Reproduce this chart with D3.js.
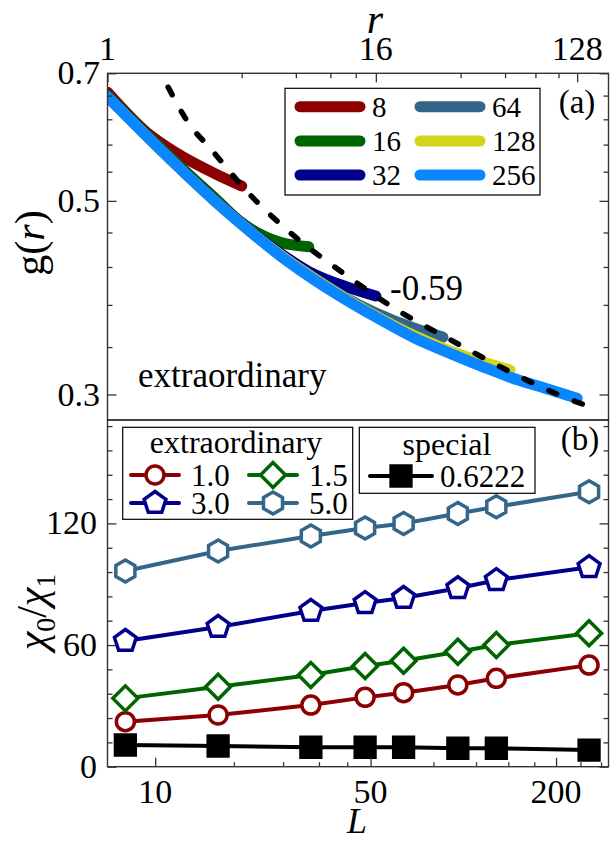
<!DOCTYPE html>
<html>
<head>
<meta charset="utf-8">
<style>
    body { margin: 0; background: #fff; }
</style>
</head>
<body>
<div id="chart"></div>
<script src="https://cdnjs.cloudflare.com/ajax/libs/d3/7.8.5/d3.min.js"></script>
<script>
    // ---- panel (a): g(r) for each L ----
    let rGrid = [1, 1.5, 2, 3, 4, 6, 8, 12, 16, 24, 32, 48, 64, 96, 128];
    let sizesA = [8, 16, 32, 64, 128, 256];
    let g8   = [0.666, 0.599, 0.569, 0.538, 0.520];
    let g16  = [0.661, 0.596, 0.555, 0.505, 0.472, 0.448, 0.443];
    let g32  = [0.659, 0.594, 0.553, 0.502, 0.471, 0.435, 0.415, 0.398, 0.389];
    let g64  = [0.658, 0.593, 0.552, 0.501, 0.470, 0.433, 0.412, 0.386, 0.372, 0.357, 0.349];
    let g128 = [0.658, 0.593, 0.552, 0.501, 0.470, 0.433, 0.411, 0.385, 0.369, 0.350, 0.339, 0.327, 0.320];
    let g256 = [0.658, 0.593, 0.552, 0.501, 0.470, 0.432, 0.410, 0.384, 0.368, 0.348, 0.337, 0.323, 0.314, 0.304, 0.297];
    let gSeries = [g8, g16, g32, g64, g128, g256];
    let colorsA = ['#8b0000', '#006400', '#00008b', '#336688', '#d4d41a', '#0a87ff'];

    // power-law guide (dashed)
    let fitR = [1.87, 2.34, 2.88, 4.27, 6.79, 11.3, 19.9, 34.3, 61.8, 110, 158];
    let fitG = [0.675, 0.611, 0.575, 0.511, 0.457, 0.414, 0.375, 0.347, 0.320, 0.2985, 0.2885];

    let rMajor = [1, 16, 128];
    let rMinor = [4, 7, 10, 13, 38.4, 60.8, 83.2, 105.6];
    let gMajor = [0.3, 0.5, 0.7];
    let gMinor = [0.34, 0.38, 0.42, 0.46, 0.54, 0.58, 0.62, 0.66];

    // ---- panel (b): chi0/chi1 vs L ----
    let Lb = [8, 16, 32, 48, 64, 96, 128, 256];
    let ext10 = [22.2, 25.5, 30.4, 34.2, 36.5, 40.3, 43.6, 50.1];
    let ext15 = [33.7, 39.4, 45.2, 49.7, 52.3, 56.7, 60.0, 65.8];
    let ext30 = [62.0, 68.9, 76.8, 80.7, 83.2, 88.0, 92.0, 98.4];
    let ext50 = [96.5, 106.4, 113.8, 117.7, 120.0, 124.9, 128.2, 135.6];
    let special = [10.7, 10.2, 9.6, 9.6, 9.6, 9.1, 9.1, 8.2];

    let LMajor = [10, 50, 200];
    let LMinor = [18, 26, 34, 42, 80, 110, 140, 170, 240, 280];
    let cMajor = [0, 60, 120];
    let cMinor = [12, 24, 36, 48, 72, 84, 96, 108, 132, 144, 156, 168];

    // ---- layout ----
    let left = 107.5, right = 608.5;
    let aTop = 73.3, mid = 420, bBot = 766.7;
    let serif = 'Liberation Serif';

    let svg = d3.select('#chart').append('svg')
        .attr('width', 610).attr('height', 842);

    let xr = d3.scaleLog().base(2).domain([1, 177]).range([left, right]);
    let yg = d3.scaleLog().domain([0.2805, 0.7]).range([mid, aTop]);
    let xL = d3.scaleLog().domain([7, 296]).range([left, right]);
    let yc = d3.scaleLinear().domain([0, 171]).range([bBot, mid]);

    // plain text at x,y; anchoring done by measuring, not text-anchor
    function txt(g, x, y, s, size, anchor, italic) {
        let t = g.append('text')
            .attr('x', x).attr('y', y)
            .attr('font-family', serif)
            .attr('font-size', size);
        if (italic) t.attr('font-style', 'italic');
        t.text(s);
        let w = t.node().getComputedTextLength();
        if (anchor === 'middle') t.attr('x', x - w / 2);
        if (anchor === 'end') t.attr('x', x - w);
        return t;
    }

    // several pieces in a row, centred on 0 inside a rotated group
    function rotLabel(g, cx, cy, pieces) {
        let grp = g.append('g').attr('transform', `translate(${cx},${cy}) rotate(-90)`);
        let x = 0;
        let nodes = pieces.map(p => {
            let t = grp.append('text').attr('x', x).attr('y', p.dy || 0)
                .attr('font-family', serif).attr('font-size', p.size);
            if (p.italic) t.attr('font-style', 'italic');
            t.text(p.s);
            x += t.node().getComputedTextLength();
            return t;
        });
        nodes.forEach(t => t.attr('x', +t.attr('x') - x / 2));
    }

    function poly(n, r, rot) {
        let pts = d3.range(n).map(i => {
            let a = rot + 2 * Math.PI * i / n;
            return [r * Math.sin(a), -r * Math.cos(a)];
        });
        return 'M' + pts.join('L') + 'Z';
    }
    let shapes = {
        circle: d3.symbol().type(d3.symbolCircle).size(Math.PI * 9 * 9)(),
        diamond: poly(4, 12.5, 0),
        pentagon: poly(5, 11.5, 0),
        hexagon: poly(6, 11, 0),
        square: poly(4, 14, Math.PI / 4)
    };

    // tick marks only
    function ticks(g, axis, values, size) {
        g.call(axis.tickValues(values).tickSize(size).tickFormat(''));
        g.attr('font-family', null).attr('font-size', null);
        g.selectAll('.tick text').remove();
        g.select('.domain').remove();
        g.selectAll('.tick line').attr('stroke', '#333').attr('stroke-width', 1.3);
    }

    svg.append('defs').append('clipPath').attr('id', 'clipA')
        .append('rect').attr('x', left).attr('y', aTop)
        .attr('width', right - left).attr('height', mid - aTop);

    // ---------- panel (a) ----------
    let pa = svg.append('g');
    let lineA = d3.line().x(d => xr(d[0])).y(d => yg(d[1])).curve(d3.curveMonotoneX);

    let curves = pa.append('g').attr('clip-path', 'url(#clipA)');
    gSeries.forEach((gs, i) => {
        curves.append('path')
            .datum(gs.map((v, j) => [rGrid[j], v]))
            .attr('d', lineA)
            .attr('fill', 'none')
            .attr('stroke', colorsA[i])
            .attr('stroke-width', 11)
            .attr('stroke-linecap', 'round')
            .attr('stroke-linejoin', 'round');
    });
    curves.append('path')
        .datum(fitR.map((r, j) => [r, fitG[j]]))
        .attr('d', lineA)
        .attr('fill', 'none')
        .attr('stroke', '#000')
        .attr('stroke-width', 5.5)
        .attr('stroke-linecap', 'round')
        .attr('stroke-dasharray', '8.5 19');

    // axes of panel (a), ticks inward
    ticks(pa.append('g').attr('transform', `translate(0,${aTop})`), d3.axisBottom(xr), rMajor, 9);
    ticks(pa.append('g').attr('transform', `translate(0,${aTop})`), d3.axisBottom(xr), rMinor, 5);
    ticks(pa.append('g').attr('transform', `translate(${left},0)`), d3.axisRight(yg), gMajor, 9);
    ticks(pa.append('g').attr('transform', `translate(${left},0)`), d3.axisRight(yg), gMinor, 5);
    ticks(pa.append('g').attr('transform', `translate(${right},0)`), d3.axisLeft(yg), gMajor, 9);
    ticks(pa.append('g').attr('transform', `translate(${right},0)`), d3.axisLeft(yg), gMinor, 5);

    rMajor.forEach(r => txt(pa, xr(r), 60, r, 34, 'middle'));
    gMajor.forEach(v => txt(pa, 100, yg(v) + 11, v, 34, 'end'));

    txt(pa, 375, 33, 'r', 42, 'middle', true);
    rotLabel(pa, 44, 243, [
        {s: 'g(', size: 42},
        {s: 'r', size: 42, italic: true},
        {s: ')', size: 42}
    ]);

    txt(pa, 577, 113, '(a)', 33, 'middle');
    txt(pa, 390, 300, '-0.59', 35, 'start');
    txt(pa, 138, 387, 'extraordinary', 35, 'start');

    // legend (a)
    let la = pa.append('g');
    la.append('rect').attr('x', 285).attr('y', 88.3).attr('width', 255).attr('height', 106.7)
        .attr('fill', '#fff').attr('stroke', '#000').attr('stroke-width', 1.2);
    let rowsA = [106.7, 141, 175];
    sizesA.forEach((s, i) => {
        let col = Math.floor(i / 3), row = i % 3;
        let x0 = col === 0 ? 300 : 420;
        la.append('line').attr('x1', x0).attr('x2', x0 + 60)
            .attr('y1', rowsA[row]).attr('y2', rowsA[row])
            .attr('stroke', colorsA[i]).attr('stroke-width', 11).attr('stroke-linecap', 'round');
        txt(la, x0 + 72, rowsA[row] + 10, s, 29, 'start');
    });

    // ---------- panel (b) ----------
    let pb = svg.append('g');
    let lineB = d3.line().x(d => xL(d[0])).y(d => yc(d[1]));
    let seriesB = [
        {vals: ext10, color: '#8b0000', shape: 'circle', fill: '#fff', name: '1.0'},
        {vals: ext15, color: '#006400', shape: 'diamond', fill: '#fff', name: '1.5'},
        {vals: ext30, color: '#00008b', shape: 'pentagon', fill: '#fff', name: '3.0'},
        {vals: ext50, color: '#336688', shape: 'hexagon', fill: '#fff', name: '5.0'},
        {vals: special, color: '#000', shape: 'square', fill: '#000', name: '0.6222'}
    ];
    seriesB.forEach(s => {
        let pts = s.vals.map((v, j) => [Lb[j], v]);
        pb.append('path').datum(pts).attr('d', lineB)
            .attr('fill', 'none').attr('stroke', s.color).attr('stroke-width', 4);
        pb.selectAll(null).data(pts).enter().append('path')
            .attr('transform', d => `translate(${xL(d[0])},${yc(d[1])})`)
            .attr('d', shapes[s.shape])
            .attr('fill', s.fill).attr('stroke', s.color).attr('stroke-width', 3.5)
            .attr('stroke-linejoin', 'miter');
    });

    ticks(pb.append('g').attr('transform', `translate(0,${bBot})`), d3.axisTop(xL), LMajor, 9);
    ticks(pb.append('g').attr('transform', `translate(0,${bBot})`), d3.axisTop(xL), LMinor, 4.5);
    ticks(pb.append('g').attr('transform', `translate(${left},0)`), d3.axisRight(yc), cMajor, 9);
    ticks(pb.append('g').attr('transform', `translate(${left},0)`), d3.axisRight(yc), cMinor, 5);
    ticks(pb.append('g').attr('transform', `translate(${right},0)`), d3.axisLeft(yc), cMajor, 9);
    ticks(pb.append('g').attr('transform', `translate(${right},0)`), d3.axisLeft(yc), cMinor, 5);

    LMajor.forEach(v => txt(pb, xL(v), 803, v, 34, 'middle'));
    cMajor.forEach(v => txt(pb, 97, yc(v) + 11, v, 34, 'end'));

    txt(pb, 357, 833, 'L', 36, 'middle', true);
    rotLabel(pb, 46, 612, [
        {s: 'χ', size: 42, italic: true},
        {s: '0', size: 28, dy: 9},
        {s: '/', size: 42},
        {s: 'χ', size: 42, italic: true},
        {s: '1', size: 28, dy: 9}
    ]);

    txt(pb, 580, 450, '(b)', 33, 'middle');

    // legend (b): extraordinary
    let lb = pb.append('g');
    lb.append('rect').attr('x', 122.7).attr('y', 427.3).attr('width', 230).attr('height', 92)
        .attr('fill', '#fff').attr('stroke', '#000').attr('stroke-width', 1.2);
    txt(lb, 236, 453, 'extraordinary', 32, 'middle');
    let rowsB = [475, 503];
    seriesB.slice(0, 4).forEach((s, i) => {
        let row = Math.floor(i / 2), col = i % 2;
        let x0 = col === 0 ? 131 : 249;
        let y0 = rowsB[row];
        lb.append('line').attr('x1', x0).attr('x2', x0 + 48).attr('y1', y0).attr('y2', y0)
            .attr('stroke', s.color).attr('stroke-width', 4).attr('stroke-linecap', 'round');
        lb.append('path').attr('transform', `translate(${x0 + 24},${y0})`)
            .attr('d', shapes[s.shape]).attr('fill', s.fill)
            .attr('stroke', s.color).attr('stroke-width', 3.5);
        txt(lb, x0 + 60, y0 + 10.5, s.name, 31, 'start');
    });

    // legend (b): special
    let ls = pb.append('g');
    ls.append('rect').attr('x', 359.3).attr('y', 427.3).attr('width', 175.7).attr('height', 66)
        .attr('fill', '#fff').attr('stroke', '#000').attr('stroke-width', 1.2);
    txt(ls, 447, 455, 'special', 32, 'middle');
    ls.append('line').attr('x1', 370).attr('x2', 432).attr('y1', 476).attr('y2', 476)
        .attr('stroke', '#000').attr('stroke-width', 4).attr('stroke-linecap', 'round');
    ls.append('path').attr('transform', 'translate(401,476)').attr('d', shapes.square)
        .attr('fill', '#000').attr('stroke', '#000').attr('stroke-width', 3.5);
    txt(ls, 440, 487, '0.6222', 31, 'start');

    // frame lines
    let frame = svg.append('g').attr('fill', 'none').attr('stroke', '#333').attr('stroke-width', 1.4);
    frame.append('rect').attr('x', left).attr('y', aTop).attr('width', right - left).attr('height', bBot - aTop);
    frame.append('line').attr('x1', left).attr('x2', right).attr('y1', mid).attr('y2', mid).attr('stroke', '#000');
</script>
</body>
</html>
